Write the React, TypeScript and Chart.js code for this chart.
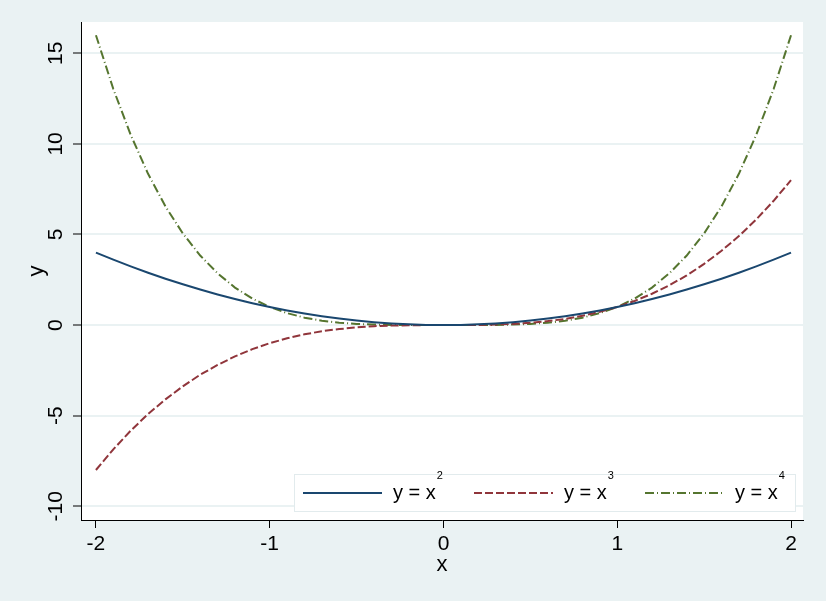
import React, { useEffect, useRef } from 'react';
import { Chart, registerables } from 'chart.js';

Chart.register(...registerables);

// values
const xValues = [
  -2, -1.9, -1.8, -1.7, -1.6, -1.5, -1.4, -1.3, -1.2, -1.1, -1, -0.9, -0.8, -0.7, -0.6, -0.5, -0.4, -0.3, -0.2, -0.1,
  0, 0.1, 0.2, 0.3, 0.4, 0.5, 0.6, 0.7, 0.8, 0.9, 1, 1.1, 1.2, 1.3, 1.4, 1.5, 1.6, 1.7, 1.8, 1.9, 2,
];
const squareValues = [
  4, 3.61, 3.24, 2.89, 2.56, 2.25, 1.96, 1.69, 1.44, 1.21, 1, 0.81, 0.64, 0.49, 0.36, 0.25, 0.16, 0.09, 0.04, 0.01,
  0, 0.01, 0.04, 0.09, 0.16, 0.25, 0.36, 0.49, 0.64, 0.81, 1, 1.21, 1.44, 1.69, 1.96, 2.25, 2.56, 2.89, 3.24, 3.61, 4,
];
const cubeValues = [
  -8, -6.86, -5.83, -4.91, -4.1, -3.38, -2.74, -2.2, -1.73, -1.33, -1, -0.73, -0.51, -0.34, -0.22, -0.13, -0.06, -0.03, -0.01, 0,
  0, 0, 0.01, 0.03, 0.06, 0.13, 0.22, 0.34, 0.51, 0.73, 1, 1.33, 1.73, 2.2, 2.74, 3.38, 4.1, 4.91, 5.83, 6.86, 8,
];
const quarticValues = [
  16, 13.03, 10.5, 8.35, 6.55, 5.06, 3.84, 2.86, 2.07, 1.46, 1, 0.66, 0.41, 0.24, 0.13, 0.06, 0.03, 0.01, 0, 0,
  0, 0, 0, 0.01, 0.03, 0.06, 0.13, 0.24, 0.41, 0.66, 1, 1.46, 2.07, 2.86, 3.84, 5.06, 6.55, 8.35, 10.5, 13.03, 16,
];
const xTicks = [-2, -1, 0, 1, 2];
const yTicks = [-10, -5, 0, 5, 10, 15];
const legendBase = ['y = x', 'y = x', 'y = x'];
const legendPowers = ['2', '3', '4'];

const FONT = '"Liberation Sans", Arial, sans-serif';
const BG = '#EAF2F3';

const toPoints = (ys: number[]) => ys.map((y, i) => ({ x: xValues[i], y }));

const backgroundPlugin = {
  id: 'plotBackground',
  beforeDraw(chart: any) {
    const { ctx, chartArea } = chart;
    ctx.save();
    ctx.fillStyle = BG;
    ctx.fillRect(0, 0, chart.width, chart.height);
    ctx.fillStyle = '#fff';
    ctx.fillRect(chartArea.left, chartArea.top, chartArea.right - chartArea.left, chartArea.bottom - chartArea.top);
    ctx.restore();
  },
};

// Stata style legend box, inside the plot at the bottom right
const legendPlugin = {
  id: 'stataLegend',
  afterDatasetsDraw(chart: any) {
    const { ctx, chartArea } = chart;
    const w = 502;
    const h = 38;
    const right = chartArea.right - 7;
    const bottom = chartArea.bottom - 8;
    const left = right - w;
    const top = bottom - h;
    ctx.save();
    ctx.fillStyle = '#fff';
    ctx.fillRect(left, top, w, h);
    ctx.strokeStyle = '#E2EBED';
    ctx.lineWidth = 1;
    ctx.strokeRect(left + 0.5, top + 0.5, w - 1, h - 1);
    const cy = top + 19;
    chart.data.datasets.forEach((ds: any, i: number) => {
      const x0 = left + 9 + i * 171;
      ctx.beginPath();
      ctx.setLineDash(ds.borderDash || []);
      ctx.strokeStyle = ds.borderColor;
      ctx.lineWidth = 2;
      ctx.moveTo(x0, cy);
      ctx.lineTo(x0 + 79, cy);
      ctx.stroke();
      ctx.setLineDash([]);
      ctx.fillStyle = '#000';
      ctx.textBaseline = 'middle';
      ctx.textAlign = 'left';
      ctx.font = `20px ${FONT}`;
      ctx.fillText(legendBase[i], x0 + 90, cy);
      const tw = ctx.measureText(legendBase[i]).width;
      ctx.font = `11px ${FONT}`;
      ctx.fillText(legendPowers[i], x0 + 90 + tw + 1, top + 2);
    });
    ctx.restore();
  },
};

const App = () => {
  const chartRef = useRef<HTMLCanvasElement>(null);
  const chartInstance = useRef<Chart | null>(null);

  useEffect(() => {
    document.body.style.margin = '0';
    if (!chartRef.current) return;
    if (chartInstance.current) chartInstance.current.destroy();

    chartInstance.current = new Chart(chartRef.current, {
      type: 'line',
      data: {
        datasets: [
          {
            label: 'y = x2',
            data: toPoints(squareValues),
            borderColor: '#1A476F',
            borderWidth: 2,
            pointRadius: 0,
            fill: false,
          },
          {
            label: 'y = x3',
            data: toPoints(cubeValues),
            borderColor: '#90353B',
            borderWidth: 2,
            borderDash: [8, 3],
            pointRadius: 0,
            fill: false,
          },
          {
            label: 'y = x4',
            data: toPoints(quarticValues),
            borderColor: '#55752F',
            borderWidth: 2,
            borderDash: [9, 3, 1, 3],
            pointRadius: 0,
            fill: false,
          },
        ],
      },
      options: {
        responsive: false,
        animation: false,
        devicePixelRatio: 1,
        layout: { autoPadding: false, padding: { left: 0, top: 22, right: 23, bottom: 0 } },
        plugins: { legend: { display: false }, tooltip: { enabled: false } },
        scales: {
          x: {
            type: 'linear',
            min: -2.086,
            max: 2.069,
            afterBuildTicks: (s: any) => {
              s.ticks = xTicks.map((v) => ({ value: v }));
            },
            afterFit: (s: any) => {
              s.height = 81;
            },
            grid: { drawOnChartArea: false, tickColor: '#000', tickLength: 8, tickWidth: 1 },
            border: { display: true, color: '#000', width: 1 },
            ticks: {
              autoSkip: false,
              maxRotation: 0,
              padding: 4,
              color: '#000',
              font: { family: FONT, size: 21 },
              callback: (v: any) => String(v),
            },
            title: { display: true, text: 'x', color: '#000', font: { family: FONT, size: 22 }, padding: { top: 0, bottom: 23 } },
          },
          y: {
            type: 'linear',
            min: -10.76,
            max: 16.73,
            afterBuildTicks: (s: any) => {
              s.ticks = yTicks.map((v) => ({ value: v }));
            },
            afterFit: (s: any) => {
              s.width = 81;
            },
            grid: { color: BG, lineWidth: 2, tickColor: '#000', tickLength: 8, tickWidth: 1 },
            border: { display: true, color: '#000', width: 1 },
            ticks: {
              autoSkip: false,
              minRotation: 90,
              maxRotation: 90,
              crossAlign: 'center',
              padding: 2,
              color: '#000',
              font: { family: FONT, size: 21 },
              callback: (v: any) => String(v),
            },
            title: { display: true, text: 'y', color: '#000', font: { family: FONT, size: 22 }, padding: { top: 24, bottom: 0 } },
          },
        },
      },
      plugins: [backgroundPlugin, legendPlugin],
    });

    return () => {
      if (chartInstance.current) {
        chartInstance.current.destroy();
        chartInstance.current = null;
      }
    };
  }, []);

  return (
    <div style={{ position: 'absolute', left: 0, top: 0, width: 826, height: 601, background: BG }}>
      <canvas ref={chartRef} width={826} height={601} />
    </div>
  );
};

export default App;
